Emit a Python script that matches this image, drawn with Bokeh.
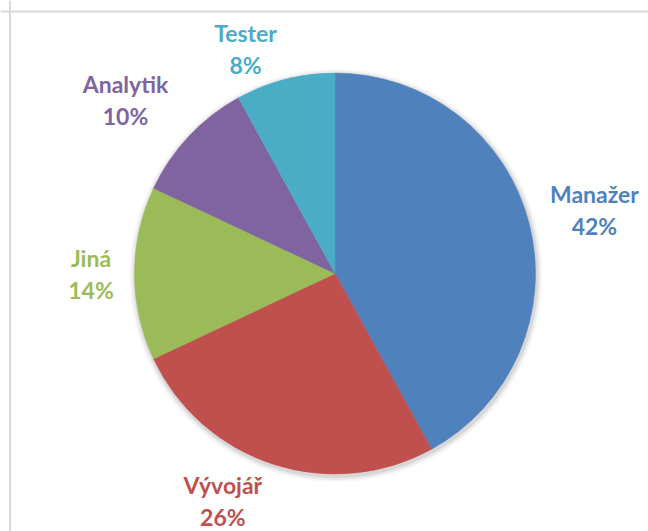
import math
from bokeh.plotting import figure
from bokeh.models import ColumnDataSource, Range1d, Span
from bokeh.core.properties import value
from bokeh.embed import file_html
from bokeh.resources import INLINE

# ---- data ----
categories = ["Manažer", "Vývojář", "Jiná", "Analytik", "Tester"]
shares = [42, 26, 14, 10, 8]
colors = ["#4F81BD", "#C0504D", "#9BBB59", "#8064A2", "#4BACC6"]

# ---- layout / style ----
W, H = 648, 531
CX, CY, R = 334.5, 258.0, 200.5
label_angle_nudge = [0.75, 8.2, -0.2, -3.65, -7.35]   # degrees
label_gap = [66.5, 53.5, 43.5, 71.2, 41.0]             # px beyond the rim
FONT = "Lato"
FONT_SIZE = "23px"
LINE1_OFF, LINE2_OFF = 16, -16

total = float(sum(shares))
starts, ends, lx, ly = [], [], [], []
cum = 0.0
for i, v in enumerate(shares):
    a0 = math.pi / 2 - 2 * math.pi * cum / total
    cum += v
    a1 = math.pi / 2 - 2 * math.pi * cum / total
    starts.append(a0)
    ends.append(a1)
    mid_cw = 360.0 * (cum - v / 2) / total + label_angle_nudge[i]
    th = math.radians(mid_cw)
    d = R + label_gap[i]
    lx.append(CX + d * math.sin(th))
    ly.append(CY + d * math.cos(th))

src = ColumnDataSource(dict(
    start=starts, end=ends, color=colors,
    name=categories, pct=[f"{v}%" for v in shares],
    lx=lx, ly1=[y + LINE1_OFF for y in ly], ly2=[y + LINE2_OFF for y in ly],
))

p = figure(width=W, height=H, output_backend="svg", toolbar_location=None,
           x_range=Range1d(0, W), y_range=Range1d(0, H),
           min_border=0, min_border_left=0, min_border_right=0,
           min_border_top=0, min_border_bottom=0)
p.axis.visible = False
p.xgrid.visible = False
p.ygrid.visible = False
p.outline_line_color = None
p.background_fill_color = "white"
p.border_fill_color = "white"

# chart area border (left & top visible in reference)
p.add_layout(Span(location=9.5, dimension="height", line_color="#d9d9d9", line_width=2))
p.add_layout(Span(location=520.0, dimension="width", line_color="#d9d9d9", line_width=2))

# soft shadow
for k, a in [(6, 0.03), (4, 0.05), (2, 0.08)]:
    p.circle(x=[CX + 1], y=[CY - 2], radius=R + k, fill_color="#000000",
             fill_alpha=a, line_color=None)

p.wedge(x=CX, y=CY, radius=R, start_angle="start", end_angle="end",
        direction="clock", fill_color="color", line_color="color",
        line_width=0.5, source=src)

p.text(x="lx", y="ly1", text="name", text_color="color", source=src,
       text_font=value(FONT), text_font_size=FONT_SIZE, text_font_style="bold",
       text_align="center", text_baseline="alphabetic")
p.text(x="lx", y="ly2", text="pct", text_color="color", source=src,
       text_font=value(FONT), text_font_size=FONT_SIZE, text_font_style="bold",
       text_align="center", text_baseline="alphabetic")

open("out.html", "w").write(file_html(p, INLINE))
